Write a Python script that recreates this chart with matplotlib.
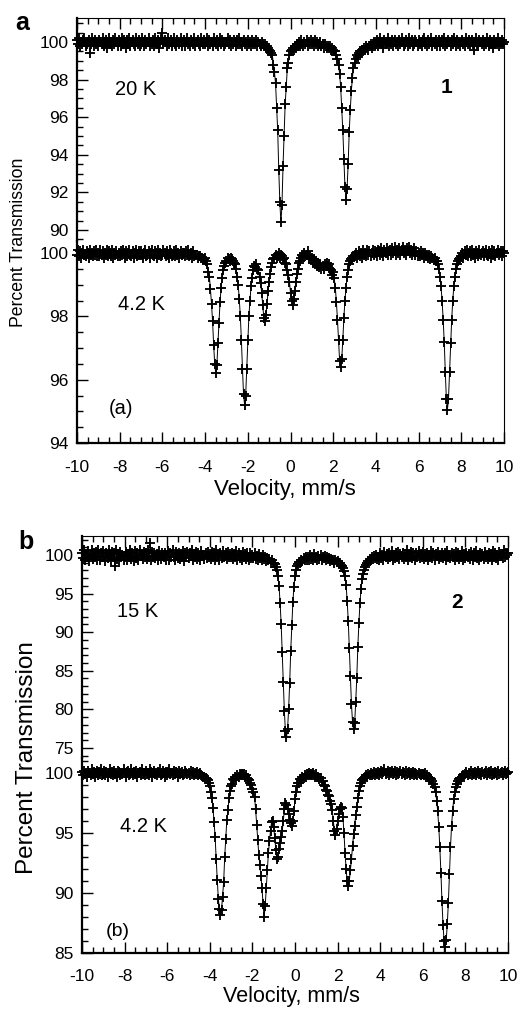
import numpy as np
import matplotlib
matplotlib.use('Agg')
import matplotlib.pyplot as plt
from matplotlib.ticker import MultipleLocator

plt.rcParams['font.family'] = ['Liberation Sans', 'DejaVu Sans']
plt.rcParams['axes.unicode_minus'] = False

W, H = 519, 1013  # output size, px

# Mossbauer spectra, percent transmission,
# one row = 1 mm/s (20 channels of 0.05 mm/s), last value at +10 mm/s
# compound 1, 20 K
T1_20K = [
    100.1, 99.9, 100.2, 99.8, 100.0, 99.9, 100.1, 100.2, 99.8, 99.9, 100.0, 100.1, 99.4, 99.9, 100.2, 100.0, 99.8, 100.1, 99.9, 100.0,
    99.8, 100.1, 100.0, 99.9, 100.2, 99.8, 100.0, 100.1, 99.7, 100.0, 100.2, 99.9, 100.0, 99.8, 100.1, 99.9, 100.2, 100.0, 99.8, 100.1,
    100.0, 99.8, 100.2, 99.9, 100.1, 100.0, 99.7, 100.1, 99.9, 100.2, 99.8, 100.0, 100.1, 99.9, 99.8, 100.2, 100.0, 99.9, 100.1, 99.8,
    99.9, 100.2, 100.0, 99.8, 100.1, 99.9, 100.0, 100.2, 99.8, 100.0, 99.9, 100.1, 99.8, 100.2, 100.0, 99.9, 100.1, 99.7, 100.0, 100.2,
    100.5, 99.9, 100.1, 100.0, 99.8, 100.2, 99.9, 100.0, 100.1, 99.8, 100.0, 100.2, 99.9, 99.8, 100.1, 100.0, 99.9, 100.2, 99.8, 100.0,
    100.1, 99.8, 100.0, 100.2, 99.9, 100.0, 99.8, 100.1, 100.0, 99.9, 100.2, 99.8, 100.0, 100.1, 99.9, 99.8, 100.2, 100.0, 99.9, 100.1,
    99.9, 100.0, 100.2, 99.8, 100.1, 99.9, 100.0, 99.8, 100.2, 100.0, 99.9, 100.1, 99.8, 100.0, 100.2, 99.9, 100.1, 100.0, 99.8, 99.9,
    100.0, 100.2, 99.9, 100.1, 99.8, 100.0, 99.9, 100.1, 100.0, 99.8, 100.1, 99.9, 100.2, 99.9, 100.0, 99.8, 100.1, 99.9, 100.0, 99.8,
    100.1, 99.9, 100.0, 99.8, 100.1, 99.9, 100.0, 99.9, 100.1, 99.8, 100.0, 99.9, 99.8, 100.0, 99.9, 99.8, 99.9, 99.7, 99.8, 99.7,
    99.6, 99.5, 99.4, 99.3, 98.8, 98.4, 97.8, 96.5, 95.3, 93.2, 91.5, 90.4, 91.3, 93.4, 95.0, 96.7, 97.6, 98.6, 98.9, 99.3,
    99.5, 99.6, 99.7, 99.6, 99.8, 99.7, 99.9, 99.8, 100.0, 99.8, 100.1, 99.9, 99.8, 100.0, 99.9, 100.1, 99.8, 100.0, 99.9, 100.1,
    99.9, 100.0, 99.8, 100.1, 99.9, 100.0, 99.8, 99.9, 100.0, 99.8, 99.9, 99.7, 99.9, 99.8, 99.7, 99.8, 99.7, 99.8, 99.6, 99.7,
    99.6, 99.5, 99.5, 99.3, 99.1, 98.8, 98.3, 97.6, 96.5, 95.3, 93.8, 92.3, 91.6, 92.2, 93.5, 95.2, 96.4, 97.4, 98.1, 98.6,
    98.9, 99.1, 99.3, 99.2, 99.4, 99.5, 99.4, 99.6, 99.5, 99.7, 99.6, 99.8, 99.7, 99.6, 99.8, 99.9, 99.7, 99.8, 100.0, 99.8,
    99.9, 100.1, 99.8, 100.0, 100.2, 99.9, 100.0, 99.7, 100.1, 99.9, 100.0, 100.2, 99.8, 100.0, 99.9, 100.1, 99.8, 100.0, 100.1, 99.9,
    100.0, 99.8, 100.1, 99.9, 100.2, 100.0, 99.8, 99.9, 100.1, 100.0, 99.8, 100.2, 99.9, 100.0, 100.1, 99.8, 99.9, 100.1, 100.0, 99.8,
    100.1, 99.9, 100.0, 99.8, 100.1, 100.2, 99.9, 100.0, 99.8, 100.1, 99.9, 100.0, 100.2, 99.8, 100.0, 99.9, 100.1, 99.8, 100.0, 100.1,
    99.8, 100.0, 100.1, 99.9, 100.2, 99.8, 100.0, 99.9, 100.1, 100.0, 99.8, 100.1, 99.9, 100.2, 100.0, 99.8, 100.1, 99.9, 100.0, 99.8,
    100.0, 100.1, 99.9, 99.8, 100.2, 100.0, 99.9, 100.1, 99.8, 100.0, 100.1, 99.9, 99.6, 100.0, 100.2, 99.9, 99.8, 100.1, 100.0, 99.9,
    100.1, 99.8, 100.0, 99.9, 100.2, 100.0, 99.8, 100.1, 99.9, 100.0, 99.7, 100.1, 99.9, 100.0, 100.2, 99.8, 100.0, 99.9, 100.1, 99.9,
    100.0,
]

# compound 1, 4.2 K
T1_4K = [
    99.95, 100.1, 99.9, 100.05, 99.85, 100.0, 100.1, 99.95, 99.9, 100.05, 100.0, 99.85, 100.1, 99.95, 100.0, 99.9, 100.05, 99.95, 100.1, 99.9,
    100.0, 99.9, 100.1, 99.95, 100.05, 99.85, 100.0, 99.95, 100.1, 99.9, 100.05, 100.0, 99.9, 100.1, 99.85, 100.0, 99.95, 100.05, 99.9, 100.0,
    99.9, 100.05, 99.95, 100.1, 100.0, 99.85, 100.05, 99.9, 100.0, 100.1, 99.95, 99.9, 100.05, 99.85, 100.0, 100.1, 99.9, 99.95, 100.05, 99.95,
    100.05, 99.95, 99.85, 100.0, 100.1, 99.9, 99.95, 100.05, 99.85, 100.0, 100.1, 99.95, 99.9, 100.05, 100.0, 99.85, 100.1, 99.95, 100.0, 99.9,
    99.95, 100.1, 100.0, 99.9, 100.05, 99.95, 99.85, 100.1, 100.0, 99.9, 99.95, 100.05, 99.9, 100.1, 99.95, 100.0, 99.85, 100.05, 99.95, 100.0,
    100.0, 99.9, 100.05, 99.95, 100.1, 99.9, 99.95, 100.0, 99.85, 100.05, 99.9, 99.95, 99.95, 99.85, 99.9, 99.9, 99.85, 99.85, 99.8, 99.8,
    99.85, 99.75, 99.65, 99.4, 99.25, 98.85, 98.4, 97.85, 97.1, 96.5, 96.2, 96.45, 97.15, 97.8, 98.45, 98.9, 99.2, 99.45, 99.6, 99.7,
    99.75, 99.85, 99.8, 99.75, 99.85, 99.8, 99.75, 99.7, 99.65, 99.5, 99.25, 99.0, 98.55, 98.0, 97.25, 96.35, 95.55, 95.2, 95.5, 96.35,
    97.25, 98.0, 98.5, 98.95, 99.2, 99.45, 99.6, 99.55, 99.65, 99.5, 99.45, 99.25, 99.05, 98.75, 98.35, 97.95, 97.85, 98.05, 98.4, 98.8,
    99.1, 99.35, 99.55, 99.7, 99.8, 99.85, 99.95, 99.85, 99.9, 100.0, 99.85, 99.95, 99.9, 99.8, 99.85, 99.7, 99.65, 99.45, 99.3, 99.1,
    98.75, 98.5, 98.35, 98.55, 98.8, 99.1, 99.35, 99.5, 99.7, 99.75, 99.85, 99.95, 99.9, 100.0, 99.9, 99.95, 100.05, 99.85, 99.9, 99.8,
    99.85, 99.7, 99.8, 99.65, 99.75, 99.6, 99.7, 99.55, 99.65, 99.5, 99.6, 99.5, 99.65, 99.6, 99.7, 99.6, 99.65, 99.5, 99.45, 99.3,
    99.4, 99.2, 98.9, 98.45, 97.9, 97.25, 96.6, 96.4, 96.65, 97.25, 97.95, 98.5, 98.9, 99.25, 99.45, 99.65, 99.75, 99.8, 99.85, 99.9,
    99.9, 100.0, 99.85, 99.95, 100.05, 99.9, 100.0, 99.85, 100.1, 99.95, 100.0, 99.9, 100.1, 99.95, 100.05, 99.9, 100.0, 100.1, 99.95, 100.05,
    100.0, 99.9, 100.1, 100.05, 99.95, 100.15, 100.0, 99.9, 100.1, 100.0, 100.15, 99.95, 100.05, 100.1, 99.95, 100.15, 100.0, 100.05, 100.2, 99.95,
    100.1, 100.0, 100.15, 99.95, 100.1, 100.2, 100.0, 100.1, 99.95, 100.15, 100.05, 100.2, 100.0, 100.1, 99.95, 100.05, 100.15, 99.95, 100.05, 99.9,
    100.0, 99.9, 100.05, 99.95, 100.0, 99.85, 100.0, 99.9, 99.95, 99.85, 99.95, 99.8, 99.9, 99.85, 99.8, 99.85, 99.75, 99.75, 99.65, 99.5,
    99.25, 98.95, 98.5, 97.9, 97.2, 96.25, 95.4, 95.05, 95.4, 96.25, 97.15, 97.9, 98.5, 98.95, 99.25, 99.5, 99.65, 99.75, 99.8, 99.85,
    99.9, 100.0, 99.85, 100.05, 99.95, 100.1, 99.9, 100.0, 100.05, 99.9, 100.1, 99.95, 100.0, 99.85, 100.05, 100.0, 99.9, 100.1, 99.95, 100.0,
    100.05, 99.9, 100.0, 100.1, 99.95, 99.9, 100.05, 100.0, 99.85, 100.1, 99.95, 100.05, 99.9, 100.0, 100.1, 99.95, 100.0, 100.05, 99.9, 100.05,
    100.0,
]

# compound 2, 15 K
T2_15K = [
    100.3, 99.6, 100.6, 99.3, 100.1, 99.7, 100.5, 99.2, 100.0, 100.7, 99.5, 100.2, 99.8, 100.4, 99.4, 100.6, 99.9, 99.3, 100.3, 99.7,
    100.5, 99.8, 99.2, 100.3, 99.6, 100.7, 100.0, 99.4, 100.4, 99.7, 100.2, 98.6, 100.6, 99.5, 100.1, 99.3, 100.4, 99.8, 100.0, 99.4,
    99.7, 100.4, 99.3, 100.1, 99.8, 100.6, 99.5, 100.2, 99.9, 99.2, 100.5, 99.6, 100.3, 99.4, 100.7, 99.9, 100.0, 99.5, 100.4, 99.7,
    100.2, 99.5, 100.6, 99.8, 101.5, 99.3, 100.4, 99.7, 100.3, 99.6, 100.1, 99.4, 100.5, 99.9, 99.5, 100.3, 100.0, 99.7, 100.2, 99.4,
    99.9, 100.5, 99.4, 100.2, 99.7, 100.6, 99.8, 99.3, 100.4, 100.0, 99.6, 100.3, 99.5, 100.1, 99.8, 100.5, 99.2, 100.2, 99.7, 100.4,
    99.6, 100.3, 99.9, 100.6, 99.4, 100.1, 99.7, 100.4, 99.5, 100.2, 99.8, 99.3, 100.5, 99.9, 100.0, 99.5, 100.3, 99.6, 100.4, 99.8,
    100.1, 99.5, 100.4, 99.7, 100.2, 99.3, 100.6, 99.8, 100.0, 99.4, 100.3, 99.6, 100.5, 99.7, 99.9, 100.2, 99.5, 100.4, 99.8, 100.1,
    99.7, 100.3, 99.5, 100.1, 99.8, 100.5, 99.4, 100.2, 99.6, 100.0, 99.3, 100.4, 99.7, 100.1, 99.5, 100.2, 99.8, 99.4, 100.3, 99.6,
    100.0, 99.6, 100.2, 99.5, 99.9, 99.3, 100.1, 99.6, 99.8, 99.4, 100.0, 99.5, 99.7, 99.2, 99.6, 99.3, 99.5, 99.0, 99.3, 99.0,
    98.9, 98.8, 98.5, 98.0, 97.3, 96.0, 93.8, 91.1, 87.4, 83.6, 79.8, 77.2, 76.4, 77.4, 80.0, 83.4, 87.6, 90.9, 93.9, 95.9,
    97.3, 98.1, 98.6, 98.8, 99.1, 99.0, 99.4, 99.2, 99.6, 99.3, 99.8, 99.4, 99.7, 99.3, 100.0, 99.5, 99.8, 99.4, 100.1, 99.6,
    99.7, 99.3, 99.9, 99.5, 100.0, 99.4, 99.8, 99.6, 99.9, 99.3, 99.7, 99.5, 99.6, 99.2, 99.5, 99.3, 99.4, 99.0, 99.3, 99.1,
    99.2, 99.0, 98.9, 98.7, 98.6, 98.3, 97.9, 97.3, 96.1, 94.0, 91.5, 87.9, 84.3, 80.7, 78.4, 77.4, 78.2, 80.9, 84.1, 88.1,
    91.2, 93.8, 95.6, 96.9, 97.6, 98.1, 98.5, 98.7, 99.0, 99.2, 99.5, 99.3, 99.7, 99.5, 99.9, 99.6, 100.0, 99.5, 99.8, 99.4,
    100.2, 99.6, 100.0, 99.3, 100.4, 99.8, 100.1, 99.5, 100.3, 99.7, 99.9, 100.5, 99.4, 100.0, 99.6, 100.2, 99.8, 100.4, 99.5, 100.1,
    99.7, 100.3, 99.5, 100.1, 99.8, 100.6, 99.3, 100.0, 99.7, 100.4, 99.6, 100.2, 99.9, 99.4, 100.3, 99.7, 100.5, 99.6, 100.1, 99.8,
    100.4, 99.5, 100.1, 99.8, 100.3, 99.4, 100.0, 99.7, 100.5, 99.6, 100.2, 99.3, 100.1, 99.9, 100.4, 99.5, 100.0, 99.8, 100.3, 99.6,
    99.9, 100.2, 99.4, 100.5, 99.7, 100.0, 99.6, 100.3, 99.8, 100.1, 99.3, 100.4, 99.7, 100.2, 99.5, 100.0, 99.8, 100.5, 99.4, 100.1,
    99.6, 100.3, 99.8, 100.1, 99.5, 100.4, 99.9, 99.4, 100.2, 99.7, 100.5, 99.6, 100.0, 99.3, 100.3, 99.8, 100.1, 99.5, 100.4, 99.7,
    100.0, 99.5, 100.3, 99.7, 100.1, 99.4, 100.5, 99.8, 100.2, 99.6, 100.0, 99.3, 100.4, 99.9, 100.1, 99.6, 100.6, 99.8, 100.2, 100.0,
    100.3,
]

# compound 2, 4.2 K
T2_4K = [
    100.1, 99.8, 100.2, 99.9, 100.0, 99.7, 100.2, 100.0, 99.8, 100.3, 99.9, 100.1, 99.7, 100.0, 100.2, 99.8, 100.1, 99.9, 100.3, 99.8,
    99.9, 100.2, 99.8, 100.1, 99.7, 100.0, 100.3, 99.9, 100.1, 99.8, 100.2, 99.9, 100.0, 99.7, 100.2, 100.1, 99.8, 100.0, 99.9, 100.3,
    100.0, 99.7, 100.1, 100.2, 99.8, 99.9, 100.3, 100.0, 99.8, 100.1, 99.9, 100.2, 99.7, 100.0, 100.1, 99.8, 100.3, 99.9, 100.0, 99.8,
    100.2, 99.9, 100.0, 99.8, 100.3, 100.1, 99.7, 100.0, 100.2, 99.9, 99.8, 100.1, 100.0, 100.3, 99.8, 99.9, 100.2, 100.0, 99.7, 100.1,
    99.8, 100.1, 100.3, 99.9, 100.0, 99.8, 100.2, 99.9, 100.1, 100.0, 99.7, 100.2, 99.9, 100.0, 100.1, 99.8, 99.9, 100.2, 100.0, 99.9,
    100.0, 99.8, 100.2, 99.9, 100.1, 99.8, 100.0, 99.9, 100.1, 99.8, 99.9, 100.0, 99.8, 99.75, 99.7, 99.65, 99.6, 99.5, 99.4, 99.2,
    98.9, 98.4, 97.9, 97.1, 95.9, 94.7, 92.8, 91.1, 89.5, 88.7, 88.2, 88.6, 89.7, 90.9, 93.0, 94.5, 96.1, 96.9, 97.9, 98.5,
    98.9, 99.1, 99.5, 99.4, 99.7, 99.6, 99.8, 99.7, 99.9, 99.8, 99.9, 99.8, 99.9, 99.7, 99.8, 99.6, 99.5, 99.4, 99.2, 99.0,
    98.7, 98.4, 98.0, 97.0, 95.7, 94.4, 93.2, 92.3, 91.4, 90.4, 89.1, 88.0, 88.9, 90.4, 91.9, 93.3, 94.3, 95.2, 95.9, 96.0,
    95.5, 94.6, 93.6, 92.8, 93.0, 93.7, 94.2, 94.7, 95.2, 96.0, 97.0, 97.5, 97.3, 97.0, 96.6, 96.1, 95.8, 95.6, 96.0, 96.8,
    97.8, 98.4, 98.9, 99.2, 99.2, 99.5, 99.4, 99.7, 99.6, 99.8, 99.7, 99.9, 99.8, 100.0, 99.8, 99.9, 99.8, 100.0, 99.8, 99.7,
    99.9, 99.7, 99.7, 99.5, 99.6, 99.3, 99.3, 99.0, 98.9, 98.6, 98.5, 98.2, 98.1, 97.7, 97.4, 96.9, 96.0, 95.2, 94.8, 95.3,
    96.0, 96.6, 97.0, 97.2, 97.1, 96.3, 95.0, 93.3, 92.0, 91.0, 90.6, 91.0, 91.9, 92.8, 93.9, 94.9, 95.6, 96.5, 97.2, 97.9,
    98.5, 98.9, 99.2, 99.4, 99.5, 99.6, 99.7, 99.8, 99.7, 99.9, 99.8, 100.0, 99.8, 99.9, 100.1, 99.8, 100.0, 99.9, 100.1, 99.8,
    100.0, 100.2, 99.9, 100.1, 100.3, 99.9, 100.0, 100.2, 99.8, 100.1, 100.0, 100.2, 99.9, 100.0, 100.2, 99.8, 100.1, 99.9, 100.0, 100.2,
    99.9, 100.1, 100.0, 99.8, 100.2, 99.9, 100.0, 100.1, 99.8, 100.0, 99.9, 100.1, 99.8, 100.0, 99.9, 99.8, 100.0, 99.9, 99.8, 99.9,
    99.9, 99.8, 100.0, 99.7, 99.8, 99.7, 99.6, 99.6, 99.5, 99.3, 99.1, 98.8, 98.4, 97.7, 96.8, 95.5, 93.8, 91.7, 89.3, 87.3,
    86.0, 85.5, 86.1, 87.4, 89.2, 91.6, 93.8, 95.6, 96.8, 97.8, 98.4, 98.8, 99.1, 99.3, 99.5, 99.6, 99.6, 99.7, 99.8, 99.7,
    99.9, 100.1, 99.8, 100.0, 99.9, 100.2, 99.8, 100.0, 99.9, 100.1, 99.8, 100.0, 100.2, 99.9, 100.0, 99.8, 100.1, 99.9, 100.0, 100.2,
    99.8, 100.0, 100.1, 99.9, 100.2, 99.8, 100.0, 99.9, 100.1, 100.0, 99.8, 100.2, 99.9, 100.0, 100.1, 99.8, 100.0, 100.2, 99.9, 100.0,
    100.1,
]

VELOCITY = np.linspace(-10, 10, 401)  # mm/s, channel grid

for name, t in [('T1_20K', T1_20K), ('T1_4K', T1_4K), ('T2_15K', T2_15K), ('T2_4K', T2_4K)]:
    if len(t) != len(VELOCITY):
        raise ValueError(f'{name} has {len(t)} points')


def px_box(left, top, right, bottom):
    return [left / W, 1 - bottom / H, (right - left) / W, (bottom - top) / H]


def fig_text(fig, x, y, s, **kw):
    fig.text(x / W, 1 - y / H, s, **kw)


def spectrum_axes(fig, box, ylim, ymajor, yminor, upper, xpad):
    ax = fig.add_axes(box)
    ax.set_xlim(-10, 10)
    ax.set_ylim(*ylim)
    ax.xaxis.set_major_locator(MultipleLocator(2))
    ax.xaxis.set_minor_locator(MultipleLocator(0.5))
    ax.yaxis.set_major_locator(MultipleLocator(ymajor))
    ax.yaxis.set_minor_locator(MultipleLocator(yminor))
    ax.tick_params(which='both', direction='in', right=False, top=upper,
                   bottom=not upper, labelbottom=not upper, width=1.0, labelsize=12.5)
    ax.tick_params(which='major', length=8)
    ax.tick_params(which='minor', length=4.5)
    ax.tick_params(axis='y', pad=6)
    ax.tick_params(axis='x', pad=xpad)
    ax.spines['left'].set_linewidth(1.6)
    ax.spines['right'].set_linewidth(0.8)
    if upper:
        ax.spines['bottom'].set_visible(False)
        ax.spines['top'].set_linewidth(0.8)
    else:
        ax.spines['top'].set_visible(False)
        ax.spines['bottom'].set_linewidth(1.6)
    ax.patch.set_alpha(0)
    return ax


def draw_spectrum(ax, trans):
    ax.plot(VELOCITY, trans, color='black', lw=0.7, zorder=2)
    ax.plot(VELOCITY, trans, ls='none', marker='+', ms=6.8, mew=1.35,
            color='black', clip_on=False, zorder=3)


fig = plt.figure(figsize=(W / 100, H / 100), dpi=100)

# panel a
ax_a1 = spectrum_axes(fig, px_box(77, 18, 504, 241), (89.41, 101.28), 2, 0.5, True, 12)
ax_a2 = spectrum_axes(fig, px_box(77, 241, 504, 443), (94, 100.38), 2, 0.5, False, 12)
draw_spectrum(ax_a1, T1_20K)
draw_spectrum(ax_a2, T1_4K)

# panel b
ax_b1 = spectrum_axes(fig, px_box(82, 536, 508, 758), (73.7, 102.46), 5, 1, True, 11.5)
ax_b2 = spectrum_axes(fig, px_box(82, 758, 508, 953), (85, 101.25), 5, 1, False, 11.5)
draw_spectrum(ax_b1, T2_15K)
draw_spectrum(ax_b2, T2_4K)

# labels
fig_text(fig, 15, 30, 'a', fontsize=18, fontweight='bold', ha='left', va='baseline')
fig_text(fig, 18, 549, 'b', fontsize=18, fontweight='bold', ha='left', va='baseline')

fig_text(fig, 136, 95, '20 K', fontsize=14.5, ha='center', va='baseline')
fig_text(fig, 447, 93, '1', fontsize=15, fontweight='bold', ha='center', va='baseline')
fig_text(fig, 142, 310, '4.2 K', fontsize=14.5, ha='center', va='baseline')
fig_text(fig, 121, 414, '(a)', fontsize=14.5, ha='center', va='baseline')

fig_text(fig, 138, 617, '15 K', fontsize=14.5, ha='center', va='baseline')
fig_text(fig, 457, 608, '2', fontsize=15, fontweight='bold', ha='center', va='baseline')
fig_text(fig, 143, 832, '4.2 K', fontsize=14.5, ha='center', va='baseline')
fig_text(fig, 118, 936, '(b)', fontsize=14, ha='center', va='baseline')

fig_text(fig, 285, 495, 'Velocity, mm/s', fontsize=16, ha='center', va='baseline')
fig_text(fig, 291, 1002, 'Velocity, mm/s', fontsize=15.5, ha='center', va='baseline')
fig_text(fig, 19, 242, 'Percent Transmission', fontsize=12.7, rotation=90, ha='center', va='center')
fig_text(fig, 27, 758, 'Percent Transmission', fontsize=17.5, rotation=90, ha='center', va='center')

fig.savefig('out.png', dpi=100)
